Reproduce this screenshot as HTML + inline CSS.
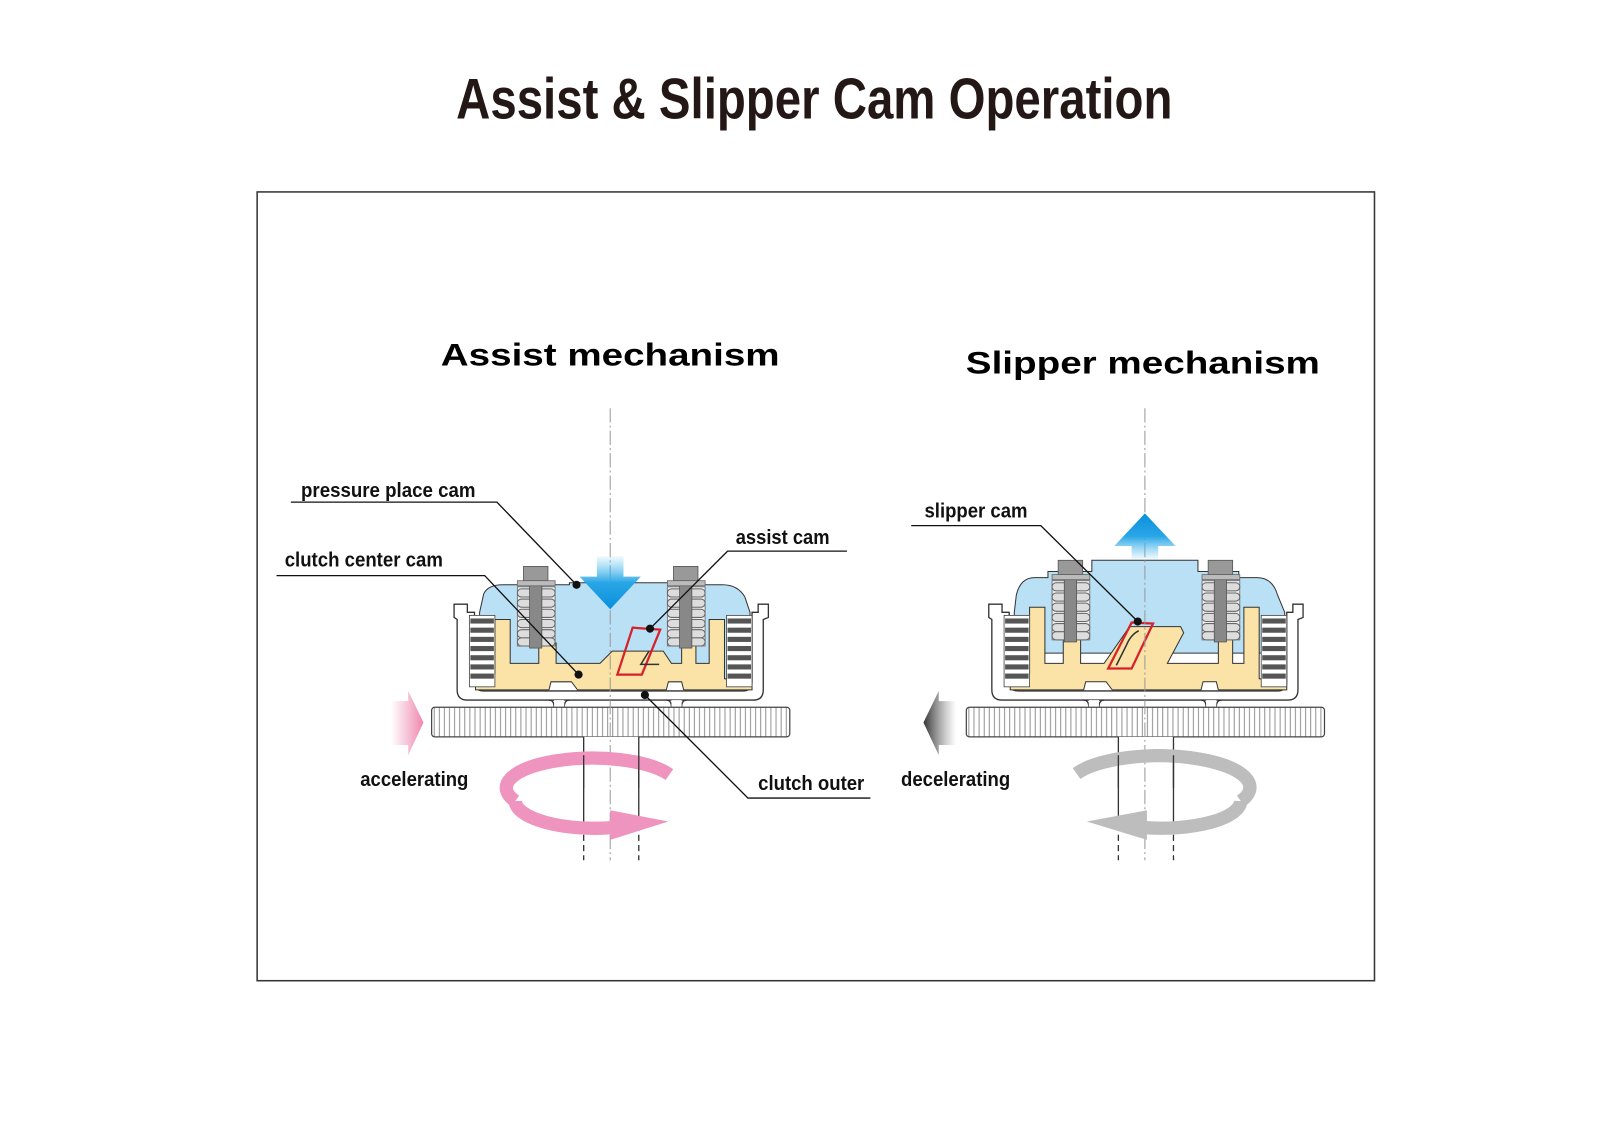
<!DOCTYPE html>
<html><head><meta charset="utf-8"><style>html,body{margin:0;padding:0;background:#fff}svg{display:block}</style></head>
<body>
<svg width="1600" height="1141" viewBox="0 0 1568 1118" xmlns="http://www.w3.org/2000/svg">
<defs>
<pattern id="hatch" width="5" height="30" patternUnits="userSpaceOnUse"><rect width="5" height="30" fill="#fff"/><line x1="2.5" y1="0" x2="2.5" y2="30" stroke="#777" stroke-width="0.8"/></pattern>
<linearGradient id="bdown" x1="0" y1="0" x2="0" y2="1"><stop offset="0" stop-color="#5ec2f0" stop-opacity="0.1"/><stop offset="0.5" stop-color="#29a6e6"/><stop offset="1" stop-color="#0a8fdc"/></linearGradient>
<linearGradient id="bup" x1="0" y1="1" x2="0" y2="0"><stop offset="0" stop-color="#5ec2f0" stop-opacity="0.1"/><stop offset="0.5" stop-color="#29a6e6"/><stop offset="1" stop-color="#0a8fdc"/></linearGradient>
<linearGradient id="pinkr" x1="0" y1="0" x2="1" y2="0"><stop offset="0" stop-color="#f08fb4" stop-opacity="0"/><stop offset="1" stop-color="#ef86ad"/></linearGradient>
<linearGradient id="grayl" x1="1" y1="0" x2="0" y2="0"><stop offset="0" stop-color="#777" stop-opacity="0"/><stop offset="1" stop-color="#333"/></linearGradient>
<g id="coil">
 <rect x="0" y="0" width="37" height="8" rx="4" fill="#ddd" stroke="#666" stroke-width="1"/>
</g>
<g id="spring">
 <rect x="-18" y="20" width="37" height="58" fill="#eee" stroke="#666" stroke-width="0.8"/>
 <use href="#coil" x="-18" y="22"/><use href="#coil" x="-18" y="32"/><use href="#coil" x="-18" y="42"/><use href="#coil" x="-18" y="52"/><use href="#coil" x="-18" y="62"/><use href="#coil" x="-18" y="70"/>
 <rect x="-6" y="8" width="12" height="72" fill="#888" stroke="#555" stroke-width="0.8"/>
 <rect x="-12" y="0" width="24" height="14" fill="#999" stroke="#555" stroke-width="0.8"/>
 <rect x="-18" y="14" width="37" height="5" fill="#bbb" stroke="#666" stroke-width="0.8"/>
</g>
<g id="plates">
 <rect x="0" y="0" width="25" height="70" fill="#fff" stroke="#444" stroke-width="0.8"/>
 <rect x="1" y="3" width="23" height="5" fill="#555"/><rect x="1" y="12" width="23" height="5" fill="#555"/><rect x="1" y="21" width="23" height="5" fill="#555"/><rect x="1" y="30" width="23" height="5" fill="#555"/><rect x="1" y="39" width="23" height="5" fill="#555"/><rect x="1" y="48" width="23" height="5" fill="#555"/><rect x="1" y="57" width="23" height="5" fill="#555"/>
</g>
<g id="base">
 <path d="M-153,592 L-140,592 L-140,600 L-133,600 L-133,668 Q-133,677 -124,677 L130,677 Q139,677 139,668 L139,600 L145,600 L145,592 L155,592 L155,605 L150,607 L150,676 Q150,686 140,686 L-140,686 Q-150,686 -150,676 L-150,607 L-153,605 Z" fill="#fff" stroke="#333" stroke-width="1.3"/>
 <path d="M-60,686 Q-55,686 -55,693 M-45,693 Q-45,686 -40,686 M55,686 Q60,686 60,693 M70,693 Q70,686 75,686" fill="none" stroke="#333" stroke-width="1.3"/>
 <rect x="-55" y="686" width="10" height="8" fill="#fff"/><rect x="60" y="686" width="10" height="8" fill="#fff"/>
 <rect x="-175" y="693" width="351" height="29" rx="3" fill="url(#hatch)" stroke="#444" stroke-width="1.2"/>
 <rect x="-26" y="722" width="54" height="88" fill="#fff"/>
 <line x1="-26" y1="722" x2="-26" y2="808" stroke="#333" stroke-width="1.3"/><line x1="28" y1="722" x2="28" y2="808" stroke="#333" stroke-width="1.3"/>
 <line x1="-26" y1="808" x2="-26" y2="843" stroke="#333" stroke-width="1.3" stroke-dasharray="6,4"/><line x1="28" y1="808" x2="28" y2="843" stroke="#333" stroke-width="1.3" stroke-dasharray="6,4"/>
</g>
</defs>

<text x="798" y="116" text-anchor="middle" font-family="Liberation Sans Narrow, Liberation Sans, sans-serif" font-weight="bold" font-size="56" fill="#231815" textLength="702" lengthAdjust="spacingAndGlyphs">Assist &amp; Slipper Cam Operation</text>

<rect x="252" y="188" width="1095" height="773" fill="none" stroke="#333" stroke-width="1.5"/>

<text x="598" y="358" text-anchor="middle" font-family="Liberation Sans, sans-serif" font-weight="bold" font-size="31" fill="#000" textLength="332" lengthAdjust="spacingAndGlyphs">Assist mechanism</text>
<text x="1120" y="366" text-anchor="middle" font-family="Liberation Sans, sans-serif" font-weight="bold" font-size="31" fill="#000" textLength="347" lengthAdjust="spacingAndGlyphs">Slipper mechanism</text>

<g transform="translate(598,0)">
 <use href="#base"/>
 <path d="M-128,600 L-124,582 Q-120,573 -105,573 L-40,573 L-40,571 L65,571 L65,573 L110,573 Q125,573 132,585 L137,600 L137,668 L-128,668 Z" fill="#b9e0f5" stroke="#333" stroke-width="1"/>
 <path d="M-132,670 L-130,660 L-113,660 L-113,607 L-98,607 L-98,650 L-70,650 L-70,630 L-53,630 L-53,650 L-10,650 L2,638 L52,638 L60,650 L70,650 L70,630 L84,630 L84,650 L97,650 L97,607 L112,607 L112,665 L139,670 L139,676 L72,676 L70,668 L57,668 L55,676 L-32,676 L-38,668 L-58,668 L-60,676 L-132,676 Z" fill="#fbe3a8" stroke="#333" stroke-width="1"/>
 <use href="#plates" x="-138" y="603"/><use href="#plates" x="114" y="603"/>
 <use href="#spring" x="-73" y="555"/><use href="#spring" x="74" y="555"/>
 <polygon points="22,615 49,617 31,661 7,661" fill="none" stroke="#d6202a" stroke-width="2.2"/>
 <path d="M38,638 L30,651 L48,651" fill="none" stroke="#333" stroke-width="1.5"/>
 <line x1="0" y1="400" x2="0" y2="843" stroke="#999" stroke-width="1" stroke-dasharray="14,3,2,3"/>
 <polygon points="-13,545 13,545 13,565 30,565 0,597 -30,565 -13,565" fill="url(#bdown)"/>
</g>

<g transform="translate(1122,0)">
 <use href="#base"/>
 <path d="M-128,600 L-126,583 Q-122,566 -108,566 L-95,566 L-95,560 L-52,560 L-52,549 L52,549 L52,560 L92,560 L92,566 L110,566 Q125,566 130,583 L137,600 L137,640 L-128,640 Z" fill="#b9e0f5" stroke="#333" stroke-width="1"/>
 <path d="M-132,670 L-130,660 L-113,660 L-113,595 L-98,595 L-98,650 L-80,650 L-80,612 L-63,612 L-63,650 L-40,650 L-15,614 L35,614 L38,620 L22,650 L72,650 L72,612 L86,612 L86,650 L97,650 L97,595 L112,595 L112,665 L139,670 L139,676 L72,676 L70,668 L57,668 L55,676 L-32,676 L-38,668 L-58,668 L-60,676 L-132,676 Z" fill="#fbe3a8" stroke="#333" stroke-width="1"/>
 <use href="#plates" x="-138" y="603"/><use href="#plates" x="114" y="603"/>
 <use href="#spring" x="-73" y="549"/><use href="#spring" x="74" y="549"/>
 <polygon points="-13,610 8,611 -13,655 -36,655" fill="none" stroke="#d6202a" stroke-width="2.2"/>
 <path d="M-6,618 Q-14,622 -18,632 L-28,652" fill="none" stroke="#333" stroke-width="1.5"/>
 <line x1="0" y1="400" x2="0" y2="843" stroke="#999" stroke-width="1" stroke-dasharray="14,3,2,3"/>
 <polygon points="-13,548 13,548 13,535 30,535 0,503 -30,535 -13,535" fill="url(#bup)"/>
</g>

<path d="M656,759 A78,27 0 0 0 505,785" fill="none" stroke="#ef93bf" stroke-width="13"/>
<path d="M505,785 A78,27 0 0 0 600,811" fill="none" stroke="#ef93bf" stroke-width="13"/>
<polygon points="598,794 655,805 598,823" fill="#ef93bf"/>

<path d="M1055,758 A78,27 0 0 1 1216,785" fill="none" stroke="#bdbdbd" stroke-width="13"/>
<path d="M1216,785 A78,27 0 0 1 1122,811" fill="none" stroke="#bdbdbd" stroke-width="13"/>
<polygon points="1124,794 1065,805 1124,823" fill="#bdbdbd"/>
<g stroke="#333" stroke-width="1.3">
 <line x1="572" y1="740" x2="572" y2="772"/><line x1="626" y1="740" x2="626" y2="772"/>
 <line x1="1096" y1="740" x2="1096" y2="772"/><line x1="1150" y1="740" x2="1150" y2="772"/>
</g>

<polygon points="383,687 400,687 400,677 415,708 400,740 400,730 383,730" fill="url(#pinkr)"/>
<polygon points="937,687 920,687 920,677 905,708 920,740 920,730 937,730" fill="url(#grayl)"/>

<g font-family="Liberation Sans Narrow, Liberation Sans, sans-serif" font-size="20" font-weight="bold" fill="#111">
 <text x="295" y="487" textLength="171" lengthAdjust="spacingAndGlyphs">pressure place cam</text>
 <text x="279" y="555" textLength="155" lengthAdjust="spacingAndGlyphs">clutch center cam</text>
 <text x="721" y="533" textLength="92" lengthAdjust="spacingAndGlyphs">assist cam</text>
 <text x="743" y="774" textLength="104" lengthAdjust="spacingAndGlyphs">clutch outer</text>
 <text x="353" y="770" textLength="106" lengthAdjust="spacingAndGlyphs">accelerating</text>
 <text x="883" y="770" textLength="107" lengthAdjust="spacingAndGlyphs">decelerating</text>
 <text x="906" y="507" textLength="101" lengthAdjust="spacingAndGlyphs">slipper cam</text>
</g>
<g fill="none" stroke="#111" stroke-width="1.3">
 <polyline points="285,492 487,492 565,573"/>
 <polyline points="271,564 475,564 567,661"/>
 <polyline points="830,540 713,540 637,616"/>
 <polyline points="853,782 733,782 632,681"/>
 <polyline points="893,515 1020,515 1115,609"/>
</g>
<g fill="#111">
 <circle cx="565" cy="573" r="4"/><circle cx="567" cy="661" r="4"/><circle cx="637" cy="616" r="4"/><circle cx="632" cy="681" r="4"/><circle cx="1115" cy="609" r="4"/>
</g>
</svg>
</body></html>
